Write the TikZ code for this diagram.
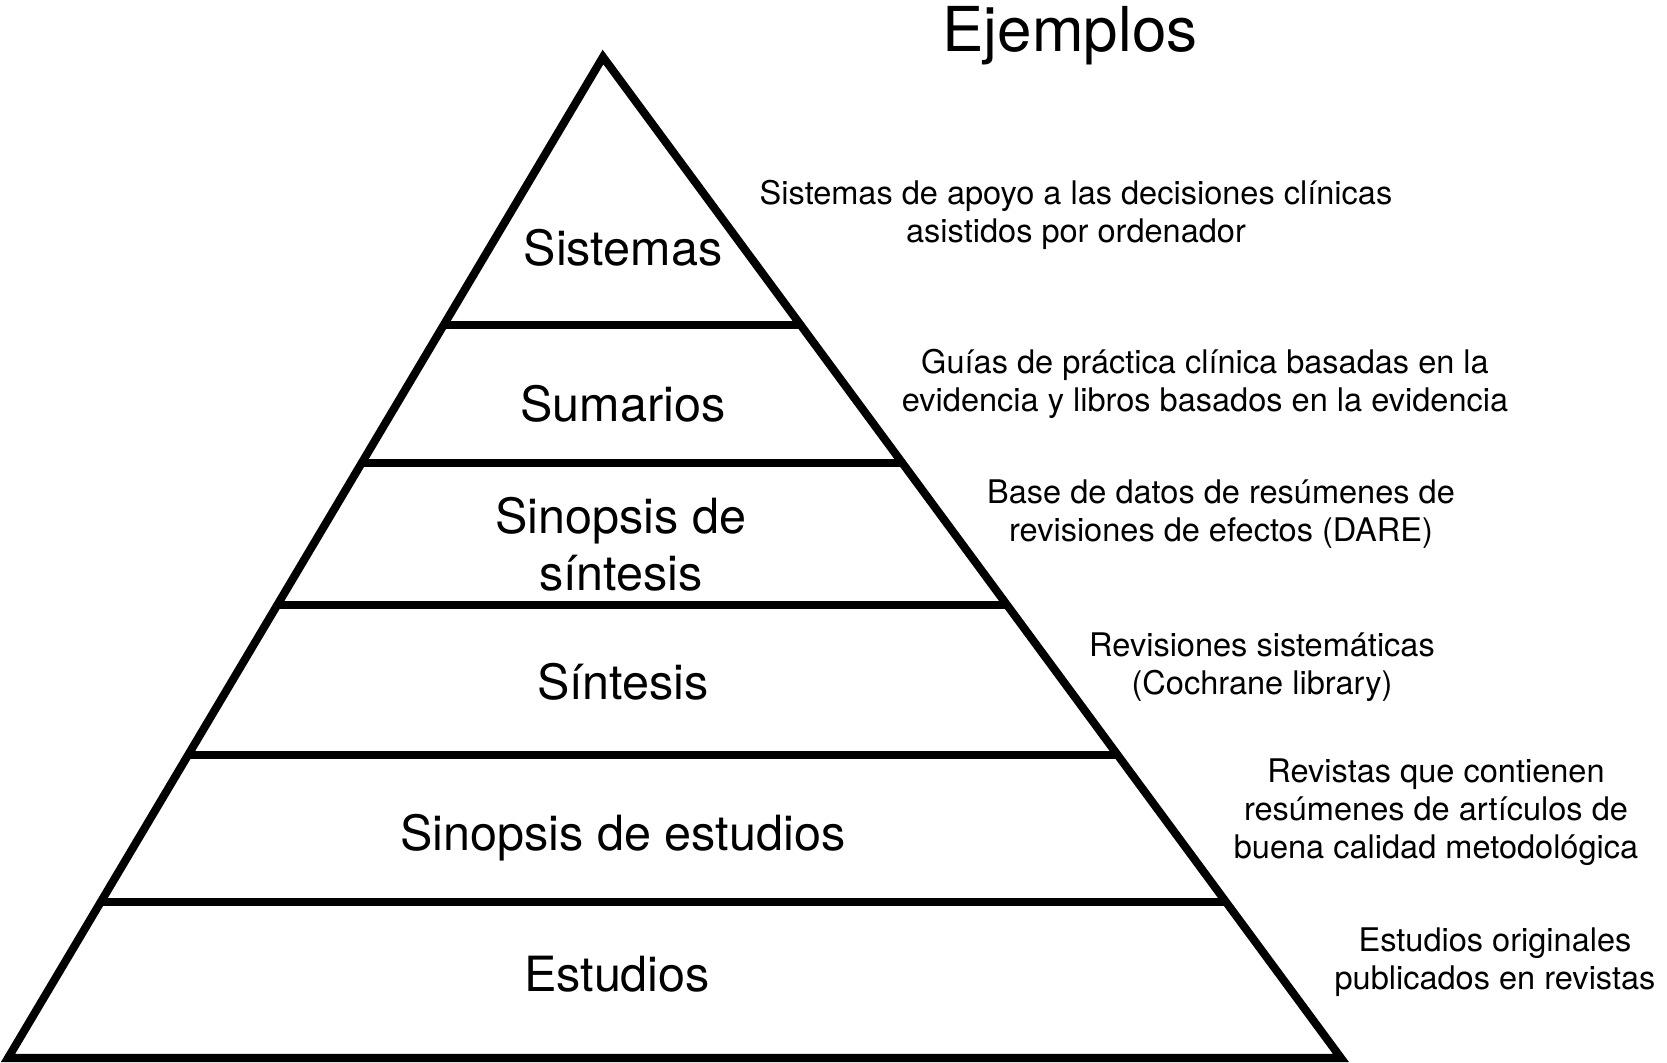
\documentclass[tikz,border=0pt]{standalone}
\usepackage{fontspec}
\setmainfont{TeX Gyre Heros}
\tikzset{
  wall/.style={line width=2.3pt},
  levellabel/.style={font=\fontsize{13.8}{16.3}\selectfont,align=center,inner sep=0pt},
  examplelabel/.style={font=\fontsize{9.25}{10.8}\selectfont,align=center,inner sep=0pt}
}
\begin{document}
\begin{tikzpicture}[x=0.01cm,y=-0.01cm]
\useasboundingbox (0,0) rectangle (1667,1062);
% apex (603,57), base from 8 to 1341 at y = 1058
\coordinate (apex) at (603,57);
\coordinate (baseL) at (8,1058);
\coordinate (baseR) at (1341,1058);
\draw[wall] (apex) -- (baseL) -- (baseR) -- cycle;
\foreach \y in {325,463,605,755,902} { \draw[wall] ({603-0.5944*(\y-57)},\y) -- ({603+0.7373*(\y-57)},\y); }
% levels
\node[levellabel,anchor=base] (sistemas) at (623,265) {Sistemas};
\node[levellabel,anchor=base] (sumarios) at (623,421) {Sumarios};
\node[levellabel] (sinsintesis) at (621,544) {Sinopsis de\\síntesis};
\node[levellabel,anchor=base] (sintesis) at (623,699) {Síntesis};
\node[levellabel,anchor=base] (sinestudios) at (623,850) {Sinopsis de estudios};
\node[levellabel,anchor=base] (estudios) at (617,991) {Estudios};
% examples
\node[font=\fontsize{17.6}{20}\selectfont,inner sep=0pt] (ejemplos) at (1070,36) {Ejemplos};
\node[examplelabel] (exsistemas) at (1076,215) {Sistemas de apoyo a las decisiones clínicas\\asistidos por ordenador};
\node[examplelabel] (exsumarios) at (1205,384) {Guías de práctica clínica basadas en la\\evidencia y libros basados en la evidencia};
\node[examplelabel] (exsinsintesis) at (1221,514) {Base de datos de resúmenes de\\revisiones de efectos (DARE)};
\node[examplelabel] (exsintesis) at (1262,667) {Revisiones sistemáticas\\(Cochrane library)};
\node[examplelabel] (exsinestudios) at (1436,812) {Revistas que contienen\\resúmenes de artículos de\\buena calidad metodológica};
\node[examplelabel] (exestudios) at (1495,962) {Estudios originales\\publicados en revistas};
\end{tikzpicture}
\end{document}
